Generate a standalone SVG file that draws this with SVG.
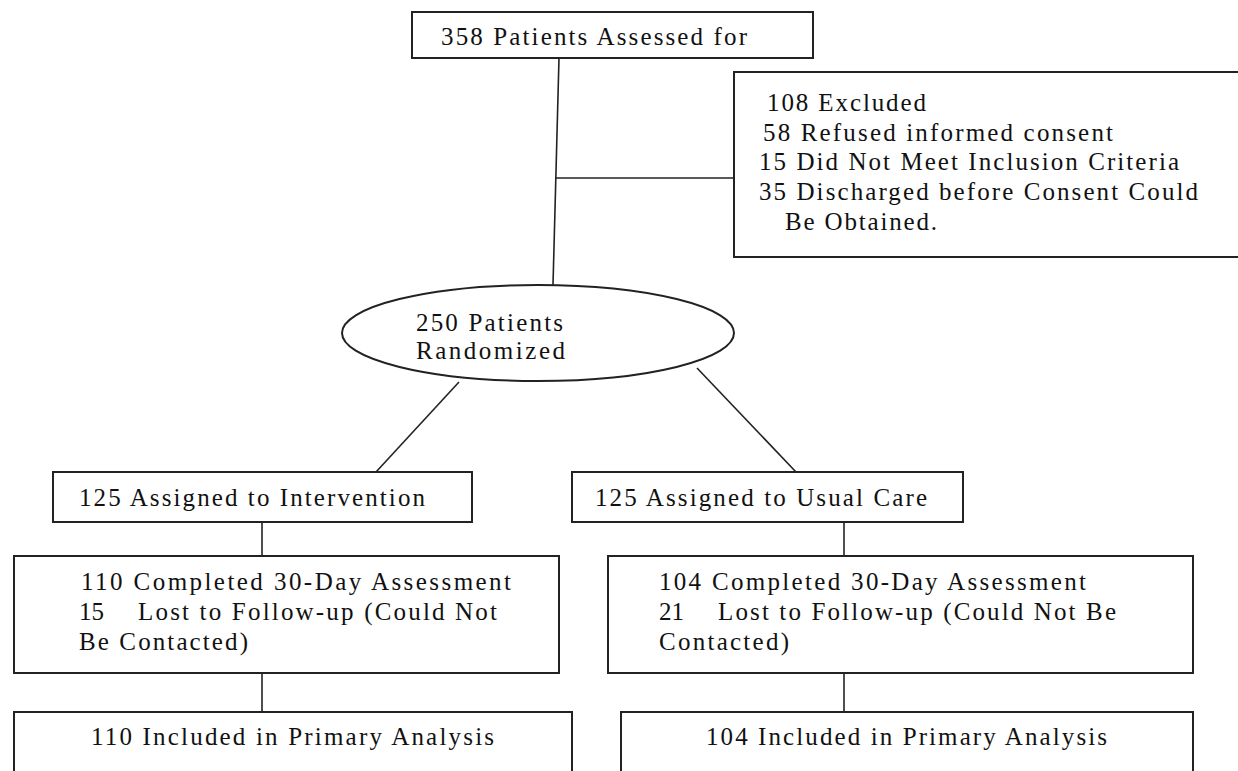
<svg xmlns="http://www.w3.org/2000/svg" width="1238" height="771" viewBox="0 0 1238 771">
<style>
.box{fill:#fff;stroke:#222;stroke-width:2}
.conn{stroke:#222;stroke-width:1.6;fill:none}
text{font-family:"Liberation Serif","Times New Roman",serif;font-size:25px;fill:#111}
</style>
<rect width="1238" height="771" fill="#fff"/>
<g id="connectors">
<path class="conn" d="M559,58 L553,285"/>
<path class="conn" d="M555,178 L734,178"/>
<path class="conn" d="M459,382 L376,472"/>
<path class="conn" d="M697,368 L796,472"/>
<path class="conn" d="M262,522 L262,556"/>
<path class="conn" d="M844,522 L844,556"/>
<path class="conn" d="M262,673 L262,712"/>
<path class="conn" d="M844,673 L844,712"/>
</g>
<g id="assessed">
<rect class="box" x="412" y="12" width="401" height="46"/>
<text x="441" y="45" textLength="306" lengthAdjust="spacing">358 Patients Assessed for</text>
</g>
<g id="excluded">
<rect class="box" x="734" y="72" width="506" height="185"/>
<text x="767" y="111" textLength="159" lengthAdjust="spacing">108 Excluded</text>
<text x="763" y="141" textLength="350" lengthAdjust="spacing">58 Refused informed consent</text>
<text x="759" y="170" textLength="420" lengthAdjust="spacing">15 Did Not Meet Inclusion Criteria</text>
<text x="759" y="200" textLength="439" lengthAdjust="spacing">35 Discharged before Consent Could</text>
<text x="785" y="230" textLength="152" lengthAdjust="spacing">Be Obtained.</text>
</g>
<g id="randomized">
<ellipse class="box" cx="538" cy="333" rx="196" ry="48"/>
<text x="416" y="331" textLength="147" lengthAdjust="spacing">250 Patients</text>
<text x="416" y="359" textLength="149" lengthAdjust="spacing">Randomized</text>
</g>
<g id="intervention">
<rect class="box" x="53" y="472" width="419" height="50"/>
<text x="79" y="506" textLength="346" lengthAdjust="spacing">125 Assigned to Intervention</text>
</g>
<g id="usualcare">
<rect class="box" x="572" y="472" width="391" height="50"/>
<text x="595" y="506" textLength="332" lengthAdjust="spacing">125 Assigned to Usual Care</text>
</g>
<g id="completed-intervention">
<rect class="box" x="14" y="556" width="545" height="117"/>
<text x="81" y="590" textLength="430" lengthAdjust="spacing">110 Completed 30-Day Assessment</text>
<text x="79" y="620">15<tspan x="138" textLength="359" lengthAdjust="spacing">Lost to Follow-up (Could Not</tspan></text>
<text x="79" y="650" textLength="169" lengthAdjust="spacing">Be Contacted)</text>
</g>
<g id="completed-usualcare">
<rect class="box" x="608" y="556" width="585" height="117"/>
<text x="659" y="590" textLength="427" lengthAdjust="spacing">104 Completed 30-Day Assessment</text>
<text x="659" y="620">21<tspan x="718" textLength="398" lengthAdjust="spacing">Lost to Follow-up (Could Not Be</tspan></text>
<text x="659" y="650" textLength="130" lengthAdjust="spacing">Contacted)</text>
</g>
<g id="analysis-intervention">
<rect class="box" x="14" y="712" width="558" height="80"/>
<text x="91" y="745" textLength="403" lengthAdjust="spacing">110 Included in Primary Analysis</text>
</g>
<g id="analysis-usualcare">
<rect class="box" x="621" y="712" width="572" height="80"/>
<text x="706" y="745" textLength="401" lengthAdjust="spacing">104 Included in Primary Analysis</text>
</g>
</svg>
